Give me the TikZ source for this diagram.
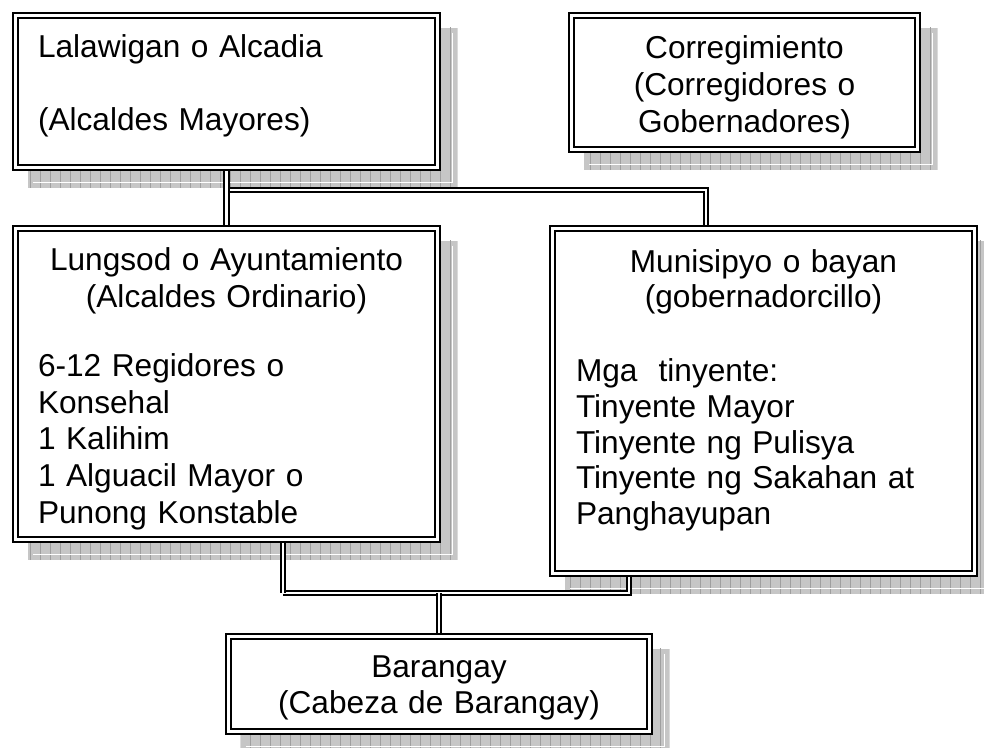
\documentclass[tikz,border=0pt]{standalone}
\usepackage{fontspec}
\setmainfont{Liberation Sans}
\usetikzlibrary{backgrounds}
\newlength{\pxu}
\setlength{\pxu}{0.3mm}
\setlength{\parindent}{0pt}

\begin{document}
\begin{tikzpicture}[x=0.3mm, y=-0.3mm,
    office/.style={draw, double, line width=2.2pt, double distance=1.8pt, fill=white,
      outer sep=0pt, inner sep=0pt, font=\fontsize{27pt}{31.5pt}\selectfont},
    link/.style={draw, double, line width=1.9pt, double distance=1.8pt},
    shadowfill/.style={fill=gray!45},
    shadowgrid/.style={draw=gray!75, line width=0.4pt}]
        \useasboundingbox (0,0) rectangle (984,747);
        \node[office, minimum width=422\pxu, minimum height=152\pxu, text width=377\pxu, align=left]
            (lalawigan) at (226.5,91.5) {Lalawigan o Alcadia\\[31.5pt](Alcaldes Mayores)\rule[-18\pxu]{0pt}{18\pxu}};
        \node[office, minimum width=346\pxu, minimum height=134\pxu, text width=320\pxu, align=center]
            (corregimiento) at (744.5,82.5) {\rule{0pt}{32\pxu}Corregimiento\\(Corregidores o\\Gobernadores)};
        \node[office, minimum width=422\pxu, minimum height=311\pxu, text width=377\pxu, align=left]
            (lungsod) at (226.5,384) {{\centering \rule{0pt}{33\pxu}Lungsod o Ayuntamiento\\(Alcaldes Ordinario)\par}
            \vspace{27pt}6-12 Regidores o\\Konsehal\\1 Kalihim\\1 Alguacil Mayor o\\Punong Konstable};
        \node[office, minimum width=422\pxu, minimum height=345\pxu, text width=375\pxu, align=left,
            font=\fontsize{27pt}{30.5pt}\selectfont]
            (munisipyo) at (763.5,401) {{\centering Munisipyo o bayan\\(gobernadorcillo)\par}
            \vspace{32.5pt}Mga\ \ tinyente:\\Tinyente Mayor\\Tinyente ng Pulisya\\Tinyente ng Sakahan at\\Panghayupan\rule[-28\pxu]{0pt}{28\pxu}};
        \node[office, minimum width=421\pxu, minimum height=95\pxu, text width=400\pxu, align=center,
            font=\fontsize{27pt}{30.5pt}\selectfont]
            (barangay) at (439,684) {\rule{0pt}{29\pxu}Barangay\\(Cabeza de Barangay)};
        \coordinate (topjoint) at (706,190);
        \coordinate (lowleft) at (283,593);
        \coordinate (lowright) at (629,593);
        % shadows and connectors go behind the boxes
        \begin{scope}[on background layer]
            \foreach \n in {lalawigan,corregimiento,lungsod,munisipyo,barangay}{
                \begin{scope}
                    \clip ([shift={(12,12)}]\n.north west) rectangle ([shift={(20,20)}]\n.south east);
                    \fill[shadowfill] ([shift={(12,12)}]\n.north west) rectangle ([shift={(20,20)}]\n.south east);
                    \draw[shadowgrid, step=10] (0,0) grid (990,750);
                \end{scope}
                \draw[white, line width=0.6pt] ([shift={(15,17)}]\n.north east) |- ([shift={(17,15)}]\n.south west);
            }
            \draw[link] (lalawigan.south |- topjoint) -- (topjoint) -- (topjoint |- munisipyo.north);
            \draw[link] (lalawigan.south) -- (lungsod.north);
            \draw[link] (lowleft) -- (lowright) -- (lowright |- munisipyo.south);
            \draw[link] (lowleft |- lungsod.south) -- (lowleft);
            \draw[link] (barangay.north |- lowleft) -- (barangay.north);
        \end{scope}
    \end{tikzpicture}
\end{document}
